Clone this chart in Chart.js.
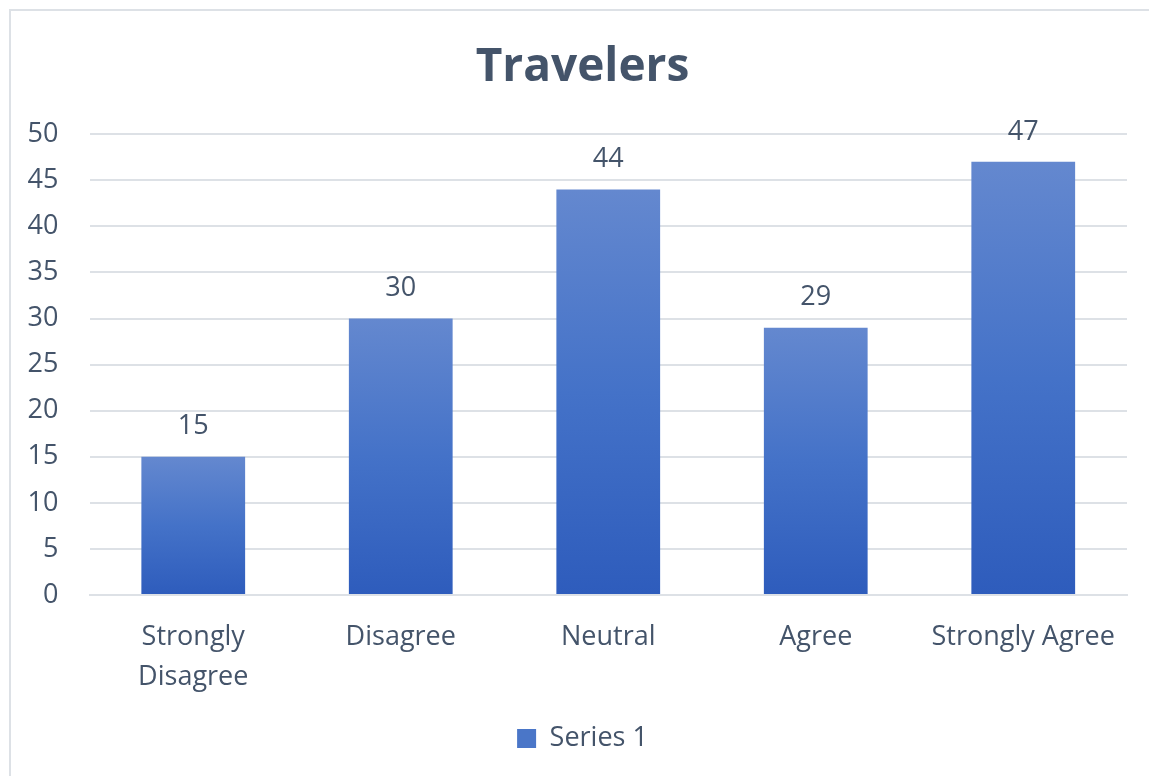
<!DOCTYPE html>
<html>
<head>
<meta charset="utf-8">
<script src="https://cdn.jsdelivr.net/npm/chart.js@4.4.0/dist/chart.umd.min.js"></script>
<style>
    html, body { margin: 0; padding: 0; background: #fff; }
    #wrap { position: relative; width: 1149px; height: 776px; overflow: hidden; }
    #frame { position: absolute; left: 9px; top: 9px; width: 1200px; height: 800px;
             border-left: 2px solid #DDE1E6; border-top: 2px solid #DDE1E6; }
    #chart { position: absolute; left: 0; top: 0; }
</style>
</head>
<body>
<div id="wrap">
    <div id="frame"></div>
    <canvas id="chart" width="1149" height="776"></canvas>
</div>
<script>
// Chart data
const categories = [['Strongly', 'Disagree'], 'Disagree', 'Neutral', 'Agree', 'Strongly Agree'];
const series1 = [15, 30, 44, 29, 47];
const yTicks = [0, 5, 10, 15, 20, 25, 30, 35, 40, 45, 50];

const textColor = '#44546A';
const gridColor = '#DDE1E6';
const fontFamily = '"Open Sans", "Noto Sans", sans-serif';

// Vertical gradient per bar, from its top to the baseline
function barGradient(context) {
    const chart = context.chart;
    if (!chart.chartArea || context.raw === undefined) return '#4472C4';
    const y = chart.scales.y;
    const top = y.getPixelForValue(context.raw);
    const bottom = y.getPixelForValue(0);
    const g = chart.ctx.createLinearGradient(0, top, 0, bottom);
    g.addColorStop(0, '#6488CF');
    g.addColorStop(0.5, '#4472C8');
    g.addColorStop(1, '#2E5CBC');
    return g;
}

// Value labels above bars
const valueLabels = {
    id: 'valueLabels',
    afterDatasetsDraw(chart) {
        const ctx = chart.ctx;
        const meta = chart.getDatasetMeta(0);
        ctx.save();
        ctx.font = '27px ' + fontFamily;
        ctx.fillStyle = textColor;
        ctx.textAlign = 'center';
        ctx.textBaseline = 'middle';
        meta.data.forEach((bar, i) => {
            ctx.fillText(String(series1[i]), bar.x, bar.y - 30);
        });
        ctx.restore();
    }
};

// Title and legend are centred on the whole frame, not the padded box
const centerBlocks = {
    id: 'centerBlocks',
    afterLayout(chart) {
        [chart.titleBlock, chart.legend].forEach(b => {
            if (!b) return;
            b.left += 28;
            b.width = b.right - b.left;
        });
    }
};

const ctx = document.getElementById('chart').getContext('2d');
new Chart(ctx, {
    type: 'bar',
    data: {
        labels: categories,
        datasets: [{
            label: 'Series 1',
            data: series1,
            backgroundColor: barGradient,
            borderWidth: 0,
            categoryPercentage: 0.5,
            barPercentage: 1.0
        }]
    },
    options: {
        responsive: false,
        animation: false,
        devicePixelRatio: 1,
        layout: {
            padding: { left: 10, right: 22, top: 10, bottom: 14 }
        },
        plugins: {
            title: {
                display: true,
                text: 'Travelers',
                color: textColor,
                font: { family: fontFamily, size: 46, weight: 'bold' },
                padding: { top: 30, bottom: 39 }
            },
            legend: {
                position: 'bottom',
                labels: {
                    color: textColor,
                    font: { family: fontFamily, size: 27 },
                    boxWidth: 19,
                    boxHeight: 19,
                    padding: 10,
                    generateLabels(chart) {
                        return [{
                            text: 'Series 1',
                            fillStyle: '#4A76C8',
                            strokeStyle: '#4A76C8',
                            lineWidth: 0,
                            datasetIndex: 0,
                            fontColor: textColor
                        }];
                    }
                }
            },
            tooltip: { enabled: false }
        },
        scales: {
            x: {
                grid: { display: false, drawTicks: false },
                border: { display: true, color: gridColor, width: 2 },
                ticks: {
                    color: textColor,
                    font: { family: fontFamily, size: 27, lineHeight: 1.48 },
                    padding: 22,
                    maxRotation: 0,
                    autoSkip: false
                },
                afterFit(scale) { scale.height = 120; }
            },
            y: {
                min: 0,
                max: 50,
                afterBuildTicks(scale) {
                    scale.ticks = yTicks.map(v => ({ value: v }));
                },
                grid: { color: gridColor, lineWidth: 2, drawTicks: false },
                border: { display: false },
                ticks: {
                    color: textColor,
                    font: { family: fontFamily, size: 27 },
                    padding: 31
                },
                afterFit(scale) { scale.width = 79.5; }
            }
        }
    },
    plugins: [valueLabels, centerBlocks]
});
</script>
</body>
</html>
